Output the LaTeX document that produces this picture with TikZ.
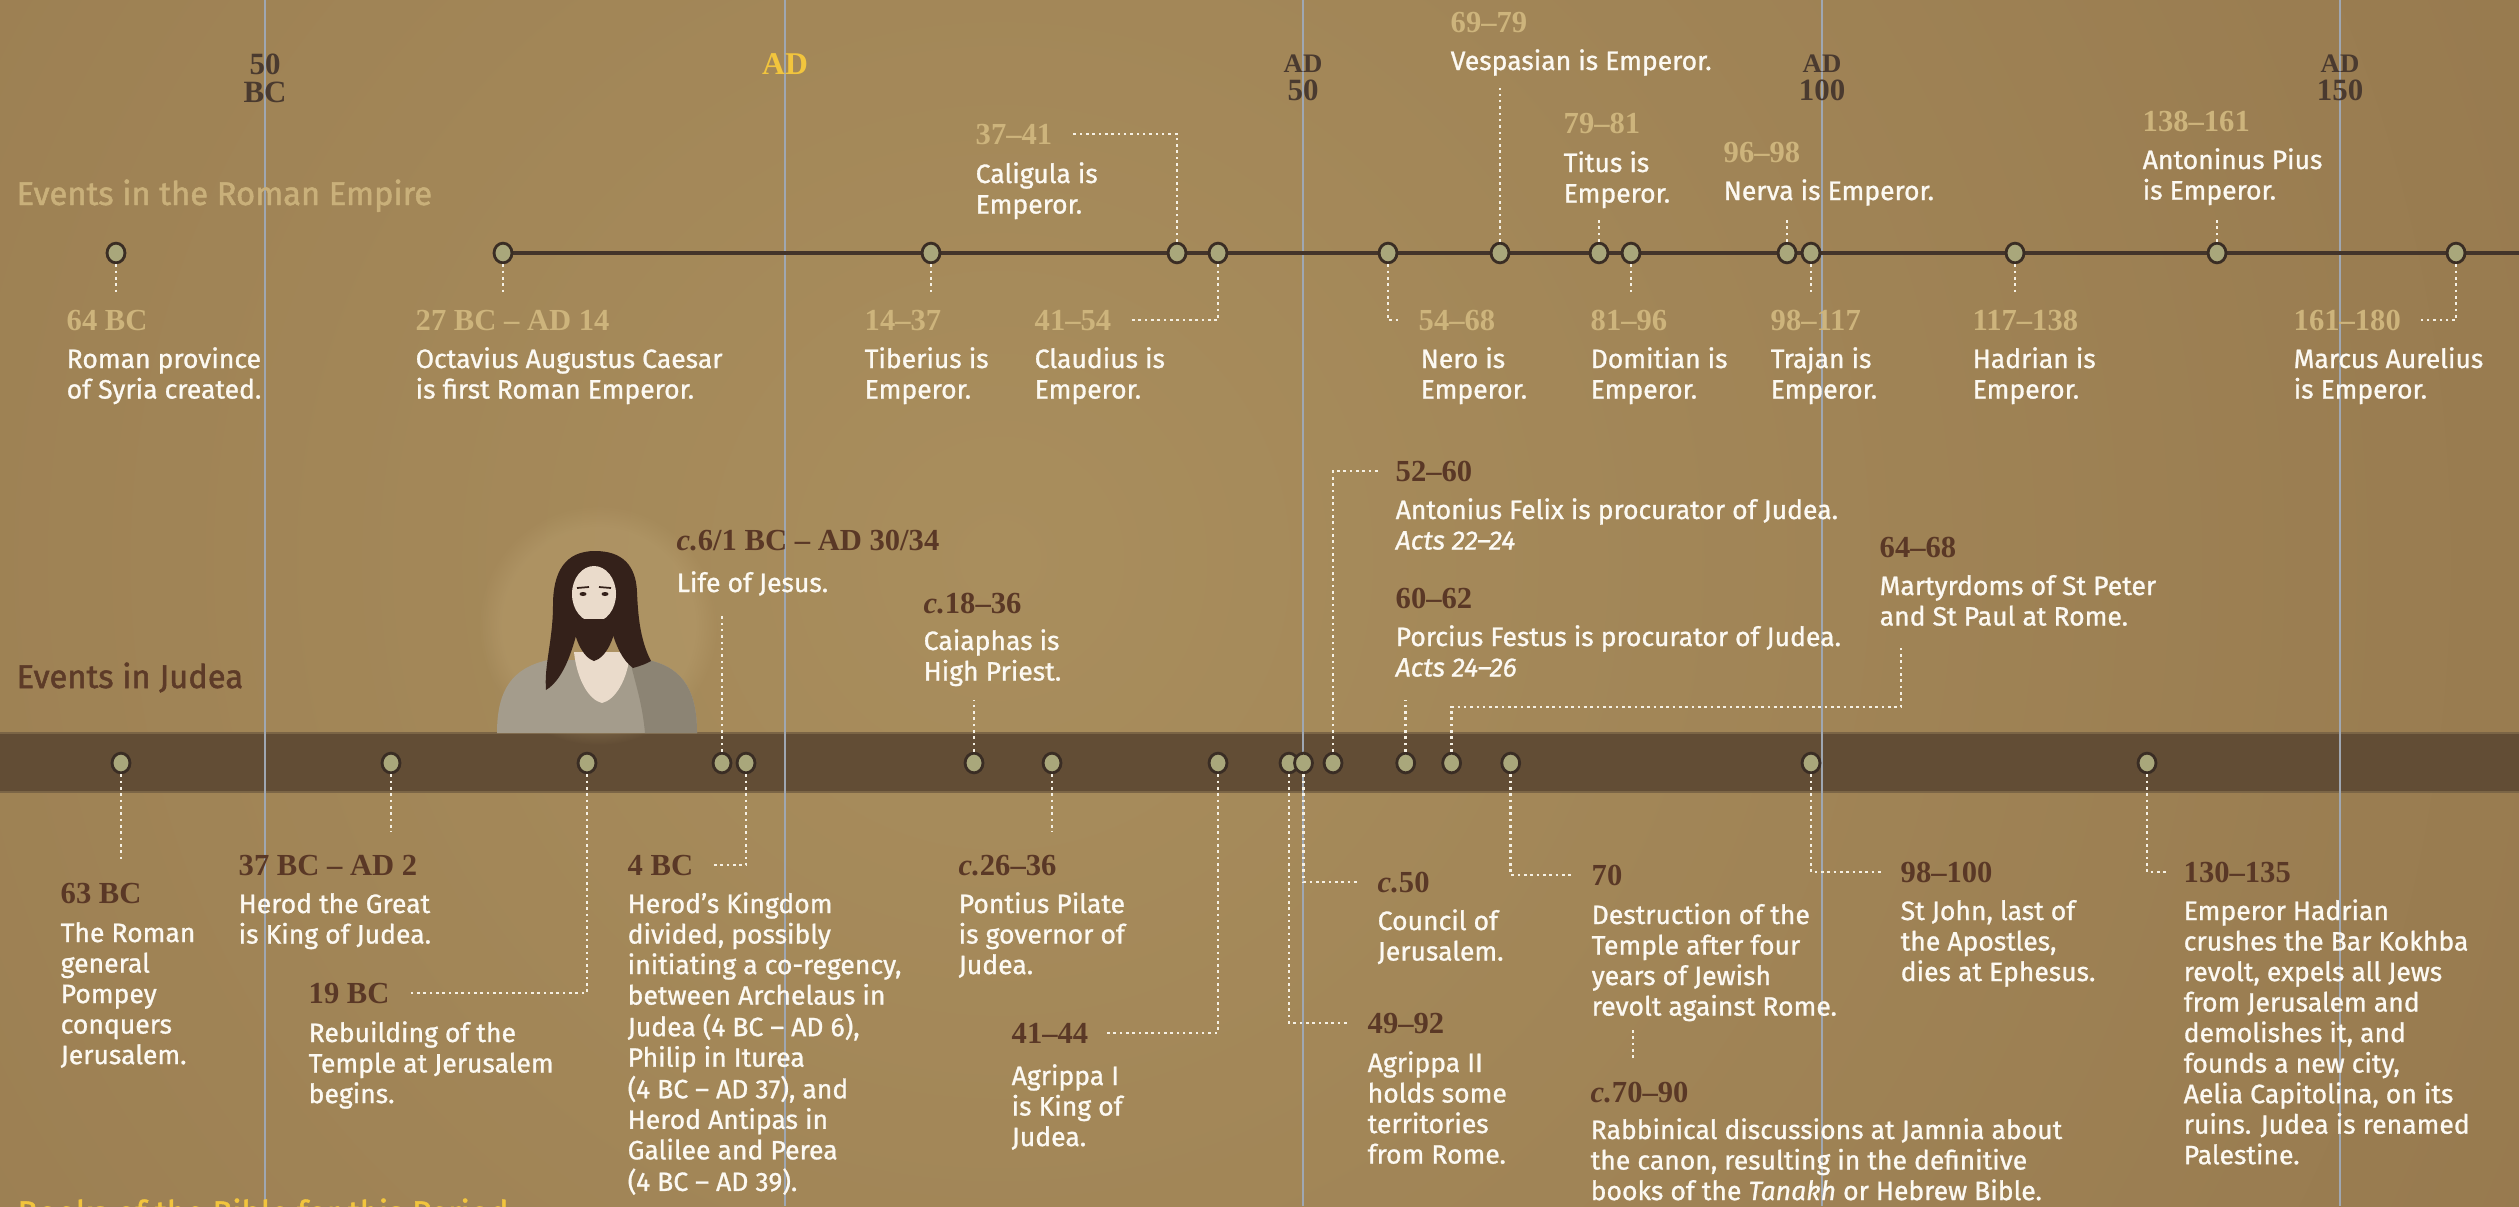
\documentclass[tikz,border=0pt]{standalone}
\usepackage{fontspec}
\usetikzlibrary{shapes.geometric,fadings}

% Fonts: humanist sans for text, bold serif for dates
\IfFontExistsTF{FiraSans-SemiBold.otf}{%
  \newfontfamily\bodyfont{FiraSans-SemiBold.otf}[ItalicFont=FiraSans-SemiBoldItalic.otf]
  \newfontfamily\headfont{FiraSans-Bold.otf}
}{%
  \newfontfamily\bodyfont{Fira Sans}[FakeBold=1]
  \newfontfamily\headfont{Fira Sans}[FakeBold=1.5]
}
\newfontfamily\datefont{Liberation Serif}[UprightFont={* Bold},ItalicFont={* Bold Italic}]

\newcommand\lns[1]{\begin{tabular}[t]{@{}l@{}}#1\end{tabular}}
\newcommand\clns[1]{\begin{tabular}[t]{@{}c@{}}#1\end{tabular}}

\definecolor{bgin}{HTML}{A98E5D}
\definecolor{bgout}{HTML}{8A6B44}
\definecolor{bandc}{HTML}{624D35}
\definecolor{bandedge}{HTML}{7B6546}
\definecolor{gridc}{HTML}{9FA7B2}
\definecolor{linec}{HTML}{43342A}
\definecolor{ringc}{HTML}{3A2D24}
\definecolor{dotc}{HTML}{A9A77B}
\definecolor{connc}{HTML}{F6F1E4}
\definecolor{bodyc}{HTML}{FCF9F2}
\definecolor{rdatec}{HTML}{CDB47C}
\definecolor{jdatec}{HTML}{5A3826}
\definecolor{rheadc}{HTML}{C9B07A}
\definecolor{jheadc}{HTML}{5D3B28}
\definecolor{axisc}{HTML}{4A3A2F}
\definecolor{goldc}{HTML}{F2C53D}
\definecolor{hairc}{HTML}{34211A}
\definecolor{skinc}{HTML}{EADBCB}
\definecolor{robec}{HTML}{A49C8C}
\definecolor{robedark}{HTML}{8C8474}
\definecolor{glowc}{HTML}{C2AA7A}

\tikzset{
  gridln/.style={draw=gridc, line width=0.45pt},
  tline/.style={draw=linec, line width=1.1pt},
  evdot/.style={ellipse, draw=ringc, fill=dotc, line width=0.8pt,
    minimum width=5.1pt, minimum height=5.6pt, inner sep=0pt},
  conn/.style={draw=connc, line width=0.8pt, dash pattern=on 0.75pt off 1.05pt},
  body/.style={font={\bodyfont\fontsize{7.55pt}{8.68pt}\selectfont}, text=bodyc,
    anchor=base west, inner sep=0pt},
  datebase/.style={font={\datefont\fontsize{8.7pt}{10pt}\selectfont}, anchor=base west,
    inner xsep=4.8pt, inner ysep=1pt, xshift=-4.8pt},
  rdate/.style={datebase, text=rdatec},
  jdate/.style={datebase, text=jdatec},
  axislab/.style={font={\datefont\fontsize{8.8pt}{7.7pt}\selectfont}, text=axisc,
    anchor=base, inner sep=0pt},
  head/.style={font={\headfont\fontsize{9.3pt}{10pt}\selectfont}, anchor=base west, inner sep=0pt},
}

\begin{document}
\begin{tikzpicture}[x=0.01cm,y=-0.01cm]
\useasboundingbox (0,0) rectangle (2519,1206);
\begin{scope}
\clip (0,0) rectangle (2519,1206);

% parchment ground
\fill[bgout] (0,0) rectangle (2519,1206);
\shade[inner color=bgin, outer color=bgout] (1000,560) circle (2900);

% Judea band
\fill[bandc] (0,732) rectangle (2519,793);
\draw[bandedge, line width=0.6pt] (0,733) -- (2519,733);
\draw[bandedge, line width=0.6pt] (0,792) -- (2519,792);

% year grid
\foreach \gx/\gn in {265/g50bc, 785/gad, 1303/g50, 1822/g100, 2340/g150}{
  \coordinate (\gn t) at (\gx,0);
  \coordinate (\gn b) at (\gx,1206);
  \draw[gridln] (\gn t) -- (\gn b);
}
\node[axislab] (a50bc) at (265,74) {\clns{50\\BC}};
\node[axislab, text=goldc, font={\datefont\fontsize{9pt}{8pt}\selectfont}] (aad) at (785,74) {AD};
\node[axislab] (a50) at (1303,72) {\clns{{\fontsize{7.6pt}{7.7pt}\selectfont AD}\\50}};
\node[axislab] (a100) at (1822,72) {\clns{{\fontsize{7.6pt}{7.7pt}\selectfont AD}\\100}};
\node[axislab] (a150) at (2340,72) {\clns{{\fontsize{7.6pt}{7.7pt}\selectfont AD}\\150}};

% section headings
\node[head, text=rheadc] (hrome) at (16,205) {Events in the Roman Empire};
\node[head, text=jheadc] (hjudea) at (16,688) {Events in Judea};
\node[head, text=goldc] (hbooks) at (17,1224) {Books of the Bible for this Period};

% figure of Jesus above the band
\fill[glowc, opacity=0.3, path fading=circle with fuzzy edge 20 percent] (598,625) circle (120);
\fill[robec] (497,733) .. controls (497,690) and (512,668) .. (548,660) -- (648,660)
  .. controls (686,668) and (697,695) .. (697,733) -- cycle;
\fill[robedark] (630,660) -- (648,660) .. controls (686,668) and (697,695) .. (697,733)
  -- (645,733) .. controls (642,700) and (634,680) .. (630,660) -- cycle;
\fill[skinc] (574,652) -- (630,652) .. controls (628,680) and (615,700) .. (602,703)
  .. controls (589,700) and (577,680) .. (574,652) -- cycle;
\fill[hairc] (595,551) .. controls (565,551) and (553,572) .. (553,605)
  .. controls (553,640) and (544,665) .. (546,690) .. controls (556,684) and (563,672) .. (568,660)
  .. controls (572,650) and (575,640) .. (577,632) -- (612,632)
  .. controls (616,645) and (622,660) .. (633,668) .. controls (640,666) and (646,664) .. (651,661)
  .. controls (640,640) and (638,615) .. (637,592) .. controls (636,565) and (622,551) .. (595,551) -- cycle;
\fill[skinc] (594,594) ellipse (22 and 28);
\fill[hairc] (571,606) .. controls (572,640) and (584,658) .. (594,661)
  .. controls (605,658) and (617,640) .. (618,606) .. controls (612,618) and (606,620) .. (601,619)
  -- (588,619) .. controls (582,620) and (576,618) .. cycle;
\fill[hairc] (583,594) ellipse (3.5 and 2);
\fill[hairc] (605,594) ellipse (3.5 and 2);
\draw[hairc, line width=0.5pt] (577,588) -- (589,587) (599,587) -- (611,588);

% Roman timeline axis
\coordinate (rstart) at (503,253);
\coordinate (rend) at (2519,253);
\draw[tline] (rstart) -- (rend);

% Roman event markers
\foreach \nx/\nn in {116/r1, 503/r2, 931/r3, 1177/r4, 1218/r5, 1388/r6, 1500/r7,
  1599/r8, 1631/r9, 1787/r10, 1811/r11, 2015/r12, 2217/r13, 2456/r14}{
  \node[evdot] (\nn) at (\nx,253) {};
}

% Judea event markers
\foreach \nx/\nn in {121/j1, 391/j2, 587/j3, 722/j4, 746/j5, 974/j6, 1052/j7, 1218/j8,
  1289/j9, 1303.5/j10, 1333/j11, 1405.7/j12, 1451.6/j13, 1510.7/j14, 1811/j15, 2147/j16}{
  \node[evdot] (\nn) at (\nx,763) {};
}

% ---- Roman Empire events ----
\node[rdate] (d64bc) at (66,330) {64 BC};
\node[body] (t64bc) at (66,368) {\lns{Roman province\\of Syria created.}};
\node[rdate] (d27bc) at (415,330) {27 BC – AD 14};
\node[body] (t27bc) at (415,368) {\lns{Octavius Augustus Caesar\\is first Roman Emperor.}};
\node[rdate] (d14) at (864,330) {14–37};
\node[body] (t14) at (864,368) {\lns{Tiberius is\\Emperor.}};
\node[rdate] (d37) at (975,144) {37–41};
\node[body] (t37) at (975,183) {\lns{Caligula is\\Emperor.}};
\node[rdate] (d41) at (1034,330) {41–54};
\node[body] (t41) at (1034,368) {\lns{Claudius is\\Emperor.}};
\node[rdate] (d54) at (1418,330) {54–68};
\node[body] (t54) at (1420,368) {\lns{Nero is\\Emperor.}};
\node[rdate] (d69) at (1450,32) {69–79};
\node[body] (t69) at (1450,70) {Vespasian is Emperor.};
\node[rdate] (d79) at (1563,133) {79–81};
\node[body] (t79) at (1563,172) {\lns{Titus is\\Emperor.}};
\node[rdate] (d81) at (1590,330) {81–96};
\node[body] (t81) at (1590,368) {\lns{Domitian is\\Emperor.}};
\node[rdate] (d96) at (1723,162) {96–98};
\node[body] (t96) at (1723,200) {Nerva is Emperor.};
\node[rdate] (d98) at (1770,330) {98–117};
\node[body] (t98) at (1770,368) {\lns{Trajan is\\Emperor.}};
\node[rdate] (d117) at (1972,330) {117–138};
\node[body] (t117) at (1972,368) {\lns{Hadrian is\\Emperor.}};
\node[rdate] (d138) at (2142,131) {138–161};
\node[body] (t138) at (2142,169) {\lns{Antoninus Pius\\is Emperor.}};
\node[rdate] (d161) at (2293,330) {161–180};
\node[body] (t161) at (2293,368) {\lns{Marcus Aurelius\\is Emperor.}};

% Roman connectors
\coordinate (e1) at (116,295);
\coordinate (e2) at (503,295);
\coordinate (e3) at (931,295);
\coordinate (e7) at (1500,88);
\coordinate (e8) at (1599,220);
\coordinate (e9) at (1631,295);
\coordinate (e10) at (1787,220);
\coordinate (e11) at (1811,295);
\coordinate (e12) at (2015,295);
\coordinate (e13) at (2217,220);
\draw[conn] (r1) -- (e1);
\draw[conn] (r2) -- (e2);
\draw[conn] (r3) -- (e3);
\draw[conn] (r4) |- (d37);
\draw[conn] (r5) |- (d41);
\draw[conn] (r6) |- (d54);
\draw[conn] (r7) -- (e7);
\draw[conn] (r8) -- (e8);
\draw[conn] (r9) -- (e9);
\draw[conn] (r10) -- (e10);
\draw[conn] (r11) -- (e11);
\draw[conn] (r12) -- (e12);
\draw[conn] (r13) -- (e13);
\draw[conn] (r14) |- (d161);

% ---- Events in Judea ----
\node[jdate] (d63bc) at (60,903) {63 BC};
\node[body] (t63bc) at (60,942) {\lns{The Roman\\general\\Pompey\\conquers\\Jerusalem.}};
\node[jdate] (d37bc) at (238,875) {37 BC – AD 2};
\node[body] (t37bc) at (238,913) {\lns{Herod the Great\\is King of Judea.}};
\node[jdate] (d19bc) at (308,1003) {19 BC};
\node[body] (t19bc) at (308,1042) {\lns{Rebuilding of the\\Temple at Jerusalem\\begins.}};
\node[jdate] (djesus) at (676,550) {\textit{c.}6/1 BC – AD 30/34};
\node[body] (tjesus) at (676,592) {Life of Jesus.};
\node[jdate] (d4bc) at (627,875) {4 BC};
\node[body] (t4bc) at (627,913) {\lns{Herod’s Kingdom\\divided, possibly\\initiating a co-regency,\\between Archelaus in\\Judea (4 BC – AD 6),\\Philip in Iturea\\(4 BC – AD 37), and\\Herod Antipas in\\Galilee and Perea\\(4 BC – AD 39).}};
\node[jdate] (d18) at (923,613) {\textit{c.}18–36};
\node[body] (t18) at (923,650) {\lns{Caiaphas is\\High Priest.}};
\node[jdate] (d26) at (958,875) {\textit{c.}26–36};
\node[body] (t26) at (958,913) {\lns{Pontius Pilate\\is governor of\\Judea.}};
\node[jdate] (d4144) at (1011,1043) {41–44};
\node[body] (t4144) at (1011,1085) {\lns{Agrippa I\\is King of\\Judea.}};
\node[jdate] (d49) at (1367,1033) {49–92};
\node[body] (t49) at (1367,1072) {\lns{Agrippa II\\holds some\\territories\\from Rome.}};
\node[jdate] (d50) at (1377,892) {\textit{c.}50};
\node[body] (t50) at (1377,930) {\lns{Council of\\Jerusalem.}};
\node[jdate] (d52) at (1395,481) {52–60};
\node[body] (t52) at (1395,519) {\lns{Antonius Felix is procurator of Judea.\\\textit{Acts 22–24}}};
\node[jdate] (d60) at (1395,608) {60–62};
\node[body] (t60) at (1395,646) {\lns{Porcius Festus is procurator of Judea.\\\textit{Acts 24–26}}};
\node[jdate] (d64) at (1879,557) {64–68};
\node[body] (t64) at (1879,595) {\lns{Martyrdoms of St Peter\\and St Paul at Rome.}};
\node[jdate] (d70) at (1591,885) {70};
\node[body] (t70) at (1591,924) {\lns{Destruction of the\\Temple after four\\years of Jewish\\revolt against Rome.}};
\node[jdate] (d7090) at (1590,1102) {\textit{c.}70–90};
\node[body] (t7090) at (1590,1139) {\lns{Rabbinical discussions at Jamnia about\\the canon, resulting in the definitive\\books of the \textit{Tanakh} or Hebrew Bible.}};
\node[jdate] (d98100) at (1900,882) {98–100};
\node[body] (t98100) at (1900,920) {\lns{St John, last of\\the Apostles,\\dies at Ephesus.}};
\node[jdate] (d130) at (2183,882) {130–135};
\node[body] (t130) at (2183,920) {\lns{Emperor Hadrian\\crushes the Bar Kokhba\\revolt, expels all Jews\\from Jerusalem and\\demolishes it, and\\founds a new city,\\Aelia Capitolina, on its\\ruins. Judea is renamed\\Palestine.}};

% Judea connectors
\coordinate (f1) at (121,862);
\coordinate (f2) at (391,832);
\coordinate (f4) at (722,613);
\coordinate (f6) at (974,700);
\coordinate (f7) at (1052,832);
\coordinate (f12) at (1405.7,700);
\coordinate (f13a) at (1901,707);
\coordinate (f13b) at (1901,645);
\coordinate (f70a) at (1633,1030);
\coordinate (f70b) at (1633,1060);
\draw[conn] (j1) -- (f1);
\draw[conn] (j2) -- (f2);
\draw[conn] (j3) |- (d19bc);
\draw[conn] (j4) -- (f4);
\draw[conn] (j5) |- (d4bc);
\draw[conn] (j6) -- (f6);
\draw[conn] (j7) -- (f7);
\draw[conn] (j8) |- (d4144);
\draw[conn] (j9) |- (d49);
\draw[conn] (j10) |- (d50);
\draw[conn] (j11) |- (d52);
\draw[conn] (j12) -- (f12);
\draw[conn] (j13) |- (f13a) -- (f13b);
\draw[conn] (j14) |- (d70);
\draw[conn] (f70a) -- (f70b);
\draw[conn] (j15) |- (d98100);
\draw[conn] (j16) |- (d130);

\end{scope}
\end{tikzpicture}
\end{document}
